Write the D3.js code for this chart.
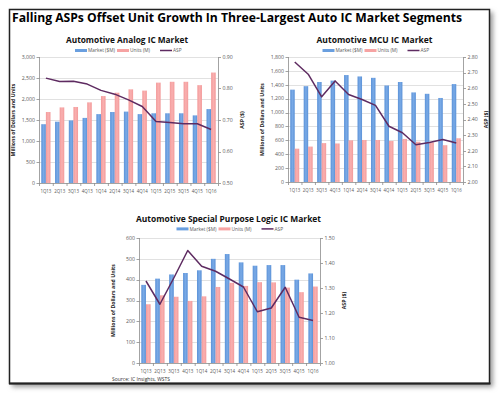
<!DOCTYPE html>
<html>
<head>
<meta charset="utf-8">
<script src="https://cdn.jsdelivr.net/npm/d3@7"></script>
<style>
  body { margin: 0; background: #fff; }
  text { font-family: "Open Sans", "DejaVu Sans", sans-serif; }
</style>
</head>
<body>
<div id="chart"></div>
<script>
// quarters shared by all three panels
const quarters = ['1Q13', '2Q13', '3Q13', '4Q13', '1Q14', '2Q14', '3Q14', '4Q14', '1Q15', '2Q15', '3Q15', '4Q15', '1Q16'];

// Automotive Analog IC Market
const analogMarket = [1400, 1460, 1490, 1550, 1640, 1690, 1700, 1640, 1660, 1660, 1660, 1610, 1760];
const analogUnits = [1690, 1800, 1810, 1920, 2070, 2150, 2230, 2200, 2390, 2410, 2410, 2330, 2630];
const analogAsp = [0.833, 0.822, 0.823, 0.814, 0.794, 0.782, 0.764, 0.743, 0.695, 0.692, 0.688, 0.688, 0.670];

// Automotive MCU IC Market
const mcuMarket = [1330, 1380, 1440, 1460, 1540, 1520, 1500, 1390, 1440, 1290, 1270, 1210, 1410];
const mcuUnits = [480, 510, 560, 555, 600, 605, 605, 590, 620, 580, 570, 530, 630];
const mcuAsp = [2.768, 2.690, 2.545, 2.647, 2.560, 2.528, 2.490, 2.357, 2.315, 2.238, 2.253, 2.272, 2.250];

// Automotive Special Purpose Logic IC Market
const logicMarket = [375, 405, 425, 432, 445, 500, 523, 483, 467, 470, 470, 400, 430];
const logicUnits = [282, 325, 318, 298, 320, 365, 385, 370, 388, 387, 362, 340, 367];
const logicAsp = [1.328, 1.235, 1.340, 1.450, 1.387, 1.367, 1.336, 1.304, 1.205, 1.220, 1.303, 1.183, 1.170];

const mainTitle = 'Falling ASPs Offset Unit Growth In Three-Largest Auto IC Market Segments';
const legendLabels = ['Market ($M)', 'Units (M)', 'ASP'];
const leftTitle = 'Millions of Dollars and Units';
const rightTitle = 'ASP ($)';
const sourceNote = 'Source:  IC Insights, WSTS';

const colors = { market: '#6a9fdf', units: '#f6a3a3', asp: '#5e2b61', grid: '#d9d9d9', axis: '#8c8c8c', label: '#595959' };

const W = 499, H = 393;

const svg = d3.select('#chart')
  .append('svg')
  .attr('width', W)
  .attr('height', H);

const defs = svg.append('defs');

// soft shadow behind the frame
const shadow = defs.append('filter').attr('id', 'shadow')
  .attr('x', '-5%').attr('y', '-5%').attr('width', '115%').attr('height', '115%');
shadow.append('feGaussianBlur').attr('stdDeviation', 2.5);

// Excel-like subtle bar shading
function barGradient(id, dark, light) {
  const g = defs.append('linearGradient').attr('id', id)
    .attr('x1', '0%').attr('x2', '100%').attr('y1', '0%').attr('y2', '0%');
  g.append('stop').attr('offset', '0%').attr('stop-color', dark);
  g.append('stop').attr('offset', '50%').attr('stop-color', light);
  g.append('stop').attr('offset', '100%').attr('stop-color', dark);
}
barGradient('gMarket', '#5b92d8', '#7aaae6');
barGradient('gUnits', '#f39a9a', '#f9b0b0');

// frame
svg.append('rect')
  .attr('x', 12).attr('y', 12).attr('width', 481).attr('height', 375)
  .attr('fill', '#9a9a9a').attr('filter', 'url(#shadow)');
svg.append('rect')
  .attr('x', 9.5).attr('y', 9.5).attr('width', 480).attr('height', 374)
  .attr('fill', '#fff').attr('stroke', '#222').attr('stroke-width', 1.5);
svg.append('line')
  .attr('x1', 9).attr('x2', 490.5).attr('y1', 383.5).attr('y2', 383.5)
  .attr('stroke', '#222').attr('stroke-width', 2);

svg.append('text')
  .attr('x', 12).attr('y', 21.5)
  .attr('textLength', 450).attr('lengthAdjust', 'spacingAndGlyphs')
  .style('font-size', '13px').style('font-weight', 'bold').style('fill', '#000')
  .text(mainTitle);

// one combo chart: clustered bars on the left axis, ASP line on the right axis
function drawPanel(p) {
  const g = svg.append('g');

  const x = d3.scaleBand().domain(quarters)
    .range([p.left, p.right]).paddingInner(0.33).paddingOuter(0.165);
  const sub = d3.scaleBand().domain(['market', 'units']).range([0, x.bandwidth()]);
  const step = (p.right - p.left) / quarters.length;

  const y = d3.scaleLinear().domain(p.yDomain).range([p.bottom, p.top]);
  const y2 = d3.scaleLinear().domain(p.y2Domain).range([p.bottom, p.top]);

  const yTicks = d3.range(p.yDomain[0], p.yDomain[1] + p.yStep / 2, p.yStep);
  const y2Ticks = d3.range(0, Math.round((p.y2Domain[1] - p.y2Domain[0]) / p.y2Step) + 1)
    .map(i => p.y2Domain[0] + i * p.y2Step);

  // gridlines
  g.selectAll('.grid')
    .data(yTicks.slice(1))
    .enter().append('line')
    .attr('x1', p.left).attr('x2', p.right)
    .attr('y1', d => Math.round(y(d)) + 0.5).attr('y2', d => Math.round(y(d)) + 0.5)
    .style('stroke', colors.grid).style('stroke-width', 0.8);

  // bars
  const series = [
    { key: 'market', values: p.market, fill: 'url(#gMarket)' },
    { key: 'units', values: p.units, fill: 'url(#gUnits)' }
  ];
  series.forEach(s => {
    g.selectAll(`.bar-${s.key}`)
      .data(s.values)
      .enter().append('rect')
      .attr('x', (d, i) => x(quarters[i]) + sub(s.key))
      .attr('width', sub.bandwidth())
      .attr('y', d => y(d))
      .attr('height', d => y(p.yDomain[0]) - y(d))
      .style('fill', s.fill);
  });

  // axes lines
  const axisG = g.append('g').style('stroke', colors.axis).style('stroke-width', 0.8);
  axisG.append('line').attr('x1', p.left + 0.5).attr('x2', p.left + 0.5).attr('y1', p.top).attr('y2', p.bottom);
  axisG.append('line').attr('x1', p.right + 0.5).attr('x2', p.right + 0.5).attr('y1', p.top).attr('y2', p.bottom);
  axisG.append('line').attr('x1', p.left).attr('x2', p.right).attr('y1', p.bottom + 0.5).attr('y2', p.bottom + 0.5);

  axisG.selectAll('.ytick').data(yTicks).enter().append('line')
    .attr('x1', p.left - 2.5).attr('x2', p.left + 0.5)
    .attr('y1', d => Math.round(y(d)) + 0.5).attr('y2', d => Math.round(y(d)) + 0.5);
  axisG.selectAll('.y2tick').data(y2Ticks).enter().append('line')
    .attr('x1', p.right + 0.5).attr('x2', p.right + 3)
    .attr('y1', d => Math.round(y2(d)) + 0.5).attr('y2', d => Math.round(y2(d)) + 0.5);
  axisG.selectAll('.xtick').data(d3.range(quarters.length + 1)).enter().append('line')
    .attr('x1', i => p.left + i * step + 0.5).attr('x2', i => p.left + i * step + 0.5)
    .attr('y1', p.bottom).attr('y2', p.bottom + 3);

  // tick labels
  const fmtLeft = d3.format(',');
  const fmtRight = d3.format('.2f');
  g.selectAll('.ylab').data(yTicks).enter().append('text')
    .attr('x', p.left - 4).attr('y', d => y(d)).attr('dy', '0.35em')
    .attr('text-anchor', 'end')
    .style('font-size', '5.2px').style('fill', colors.label)
    .text(d => fmtLeft(d));
  g.selectAll('.y2lab').data(y2Ticks).enter().append('text')
    .attr('x', p.right + 4.5).attr('y', d => y2(d)).attr('dy', '0.35em')
    .style('font-size', '5.2px').style('fill', colors.label)
    .text(d => fmtRight(d));
  const labW = step * 0.8;
  g.selectAll('.xlab').data(quarters).enter().append('text')
    .attr('x', d => x(d) + x.bandwidth() / 2 - labW / 2).attr('y', p.bottom + 9.5)
    .attr('textLength', labW).attr('lengthAdjust', 'spacingAndGlyphs')
    .style('font-size', '5.2px').style('fill', colors.label)
    .text(d => d);

  // ASP line
  const line = d3.line()
    .x((d, i) => x(quarters[i]) + x.bandwidth() / 2)
    .y(d => y2(d));
  g.append('path')
    .datum(p.asp)
    .attr('d', line)
    .style('fill', 'none').style('stroke', colors.asp).style('stroke-width', 1.5)
    .style('stroke-linejoin', 'round');

  // axis titles
  const midY = (p.top + p.bottom) / 2;
  g.append('text')
    .attr('transform', `translate(${p.leftTitleX},${midY}) rotate(-90)`)
    .attr('text-anchor', 'middle')
    .style('font-size', '5.2px').style('font-weight', 'bold').style('fill', '#222')
    .text(leftTitle);
  g.append('text')
    .attr('transform', `translate(${p.rightTitleX},${midY}) rotate(-90)`)
    .attr('text-anchor', 'middle')
    .style('font-size', '5.2px').style('font-weight', 'bold').style('fill', '#222')
    .text(rightTitle);

  // chart title
  g.append('text')
    .attr('x', p.titleX - p.titleW / 2).attr('y', p.titleY)
    .attr('textLength', p.titleW).attr('lengthAdjust', 'spacingAndGlyphs')
    .style('font-size', '9.6px').style('font-weight', 'bold').style('fill', '#111')
    .text(p.title);

  // legend
  const legendItems = [
    { label: legendLabels[0], color: colors.market, w: 3 },
    { label: legendLabels[1], color: colors.units, w: 3 },
    { label: legendLabels[2], color: colors.asp, w: 1.5 }
  ];
  const legendOffsets = [0, 42, 85];
  const lg = g.append('g').attr('transform', `translate(${p.titleX - 52},${p.titleY + 9})`);
  legendItems.forEach((d, i) => {
    lg.append('line')
      .attr('x1', legendOffsets[i]).attr('x2', legendOffsets[i] + 12)
      .attr('y1', -1.8).attr('y2', -1.8)
      .style('stroke', d.color).style('stroke-width', d.w);
    lg.append('text')
      .attr('x', legendOffsets[i] + 13).attr('y', 0)
      .style('font-size', '4.8px').style('fill', colors.label)
      .text(d.label);
  });
}

drawPanel({
  title: 'Automotive Analog IC Market', titleX: 127, titleY: 43.3, titleW: 122,
  left: 39, right: 218, top: 57, bottom: 183,
  yDomain: [0, 3000], yStep: 500, y2Domain: [0.5, 0.9], y2Step: 0.1,
  leftTitleX: 14.5, rightTitleX: 244,
  market: analogMarket, units: analogUnits, asp: analogAsp
});

drawPanel({
  title: 'Automotive MCU IC Market', titleX: 374.5, titleY: 43.3, titleW: 116,
  left: 288, right: 463, top: 57, bottom: 182,
  yDomain: [0, 1800], yStep: 200, y2Domain: [2.0, 2.8], y2Step: 0.1,
  leftTitleX: 264, rightTitleX: 488,
  market: mcuMarket, units: mcuUnits, asp: mcuAsp
});

drawPanel({
  title: 'Automotive Special Purpose Logic IC Market', titleX: 228.5, titleY: 221.7, titleW: 185,
  left: 139, right: 320, top: 238, bottom: 363,
  yDomain: [0, 600], yStep: 100, y2Domain: [1.0, 1.5], y2Step: 0.1,
  leftTitleX: 115, rightTitleX: 346,
  market: logicMarket, units: logicUnits, asp: logicAsp
});

svg.append('text')
  .attr('x', 112).attr('y', 381)
  .style('font-size', '5px').style('fill', '#333')
  .text(sourceNote);
</script>
</body>
</html>
